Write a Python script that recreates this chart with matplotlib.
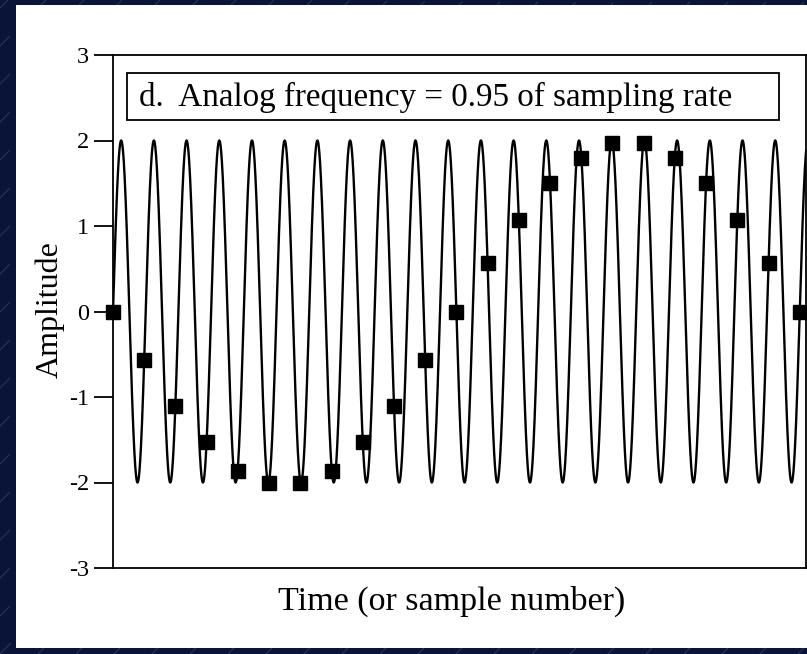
import numpy as np
import matplotlib
matplotlib.use("Agg")
import matplotlib.pyplot as plt
from matplotlib.patches import Rectangle
from matplotlib.lines import Line2D

# ---- data ----
sample_index = list(range(23))
sample_values = [0.0, -0.57, -1.1, -1.53, -1.86, -2.0, -2.0, -1.86, -1.53, -1.1, -0.57,
                 0.0, 0.57, 1.07, 1.5, 1.8, 1.97, 1.97, 1.8, 1.5, 1.07, 0.57, 0.0]
analog_amplitude = 2.0
analog_cycles_per_sample = 21 / 22   # about 0.95 of sampling rate
y_ticks = [-3, -2, -1, 0, 1, 2, 3]
title_text = "d.  Analog frequency = 0.95 of sampling rate"
x_label = "Time (or sample number)"
y_label = "Amplitude"

plt.rcParams['font.family'] = ['Liberation Serif', 'DejaVu Serif']

W, H = 807, 654
fig = plt.figure(figsize=(W / 100, H / 100), dpi=100)
bg = '#0a1438'
fig.patch.set_facecolor(bg)

# faint diagonal background lines
for k in range(-30, 30):
    x0 = k * 38
    fig.add_artist(Line2D([x0 / W, (x0 + H) / W], [0, 1], transform=fig.transFigure,
                          color='#3a4a7a', lw=0.8, alpha=0.6, zorder=0,
                          linestyle=(0, (14, 10))))

# white panel
fig.add_artist(Rectangle((16 / W, 6 / H), (W - 16) / W, (648 - 5) / H,
                         transform=fig.transFigure, facecolor='white',
                         edgecolor='none', zorder=0.5))

ax = fig.add_axes([113 / W, 1 - 568 / H, (806 - 113) / W, (568 - 55) / H])
ax.set_facecolor('white')
ax.set_zorder(1)

t = np.linspace(0, 22.25, 4000)
analog = analog_amplitude * np.sin(2 * np.pi * analog_cycles_per_sample * t)
ax.plot(t, analog, color='black', lw=1.7, zorder=2)
ax.plot(sample_index, sample_values, linestyle='none', marker='s', ms=9.5,
        color='black', zorder=3, clip_on=False)

ax.set_xlim(0, 22.2)
ax.set_ylim(-3, 3)
ax.set_xticks([])
ax.set_yticks(y_ticks)
ax.set_yticklabels([str(v) for v in y_ticks])
ax.tick_params(axis='y', direction='out', length=14, width=1.3, labelsize=17.5, pad=3)
for s in ax.spines.values():
    s.set_linewidth(1.3)

fig.text(451.5 / W, 1 - 601 / H, x_label, fontsize=24.5, ha='center', va='center')
fig.text(50 / W, 1 - 309.5 / H, y_label, fontsize=23, ha='center', va='center',
         rotation=90)

# title box
ax.add_artist(Rectangle((127 / W, 1 - 120 / H), (779 - 127) / W, (120 - 73) / H,
                        transform=fig.transFigure, facecolor='white',
                        edgecolor='black', lw=1.3, zorder=4))
fig.text(139 / W, 1 - 97 / H, title_text, fontsize=23.9, ha='left', va='center',
         zorder=5)

fig.savefig('out.png', dpi=100, facecolor=fig.get_facecolor())
